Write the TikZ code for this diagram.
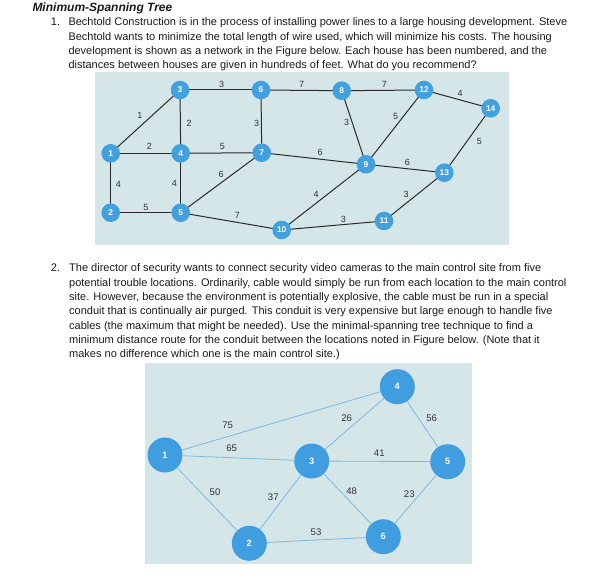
\documentclass[tikz,border=0pt]{standalone}
\usepackage{fontspec}
\setmainfont{Liberation Sans}
\usepackage{tikz}

\definecolor{panelbg}{HTML}{D4E6E8}
\definecolor{housefill}{HTML}{43A0DF}
\definecolor{camfill}{HTML}{409EE0}
\definecolor{conduit}{HTML}{7DB9E2}
\definecolor{wire}{HTML}{2A2A2A}
\definecolor{inktext}{HTML}{1A1A1A}

\begin{document}
\begin{tikzpicture}[
  x=1pt, y=-1pt,
  every node/.style={font=\fontsize{11}{14.3}\selectfont, text=inktext},
  para/.style={anchor=north west, inner sep=0pt, align=left},
  house/.style={circle, fill=housefill, minimum size=18.6pt, inner sep=0pt,
    font=\fontsize{8.4}{9}\selectfont\bfseries, text=white},
  camera/.style={circle, fill=camfill, minimum size=35pt, inner sep=0pt,
    font=\fontsize{9.2}{10}\selectfont\bfseries, text=white},
  wirelbl/.style={inner sep=0pt, font=\fontsize{9}{9}\selectfont, text=black!80},
  conduitlbl/.style={inner sep=0pt, font=\fontsize{9.6}{10}\selectfont, text=black!80}
]
\useasboundingbox (0,0) rectangle (604,585);

%% ── question text ────────────────────────────────────────────────────────────
\node[anchor=base west, inner sep=0pt, font=\fontsize{12}{13}\selectfont\bfseries\itshape]
  (title) at (32.3,11.6) {Minimum-Spanning Tree};

\node[anchor=base west, inner sep=0pt] (num1) at (50.7,25.6) {1.};
\node[para] (q1) at (68.3,17.7)
  {Bechtold Construction is in the process of installing power lines to a large housing development. Steve\\
   Bechtold wants to minimize the total length of wire used, which will minimize his costs. The housing\\
   development is shown as a network in the Figure below. Each house has been numbered, and the\\
   distances between houses are given in hundreds of feet. What do you recommend?};

\node[anchor=base west, inner sep=0pt] (num2) at (50.7,271.6) {2.};
\node[para] (q2) at (69,263.7)
  {The director of security wants to connect security video cameras to the main control site from five\\
   potential trouble locations. Ordinarily, cable would simply be run from each location to the main control\\
   site. However, because the environment is potentially explosive, the cable must be run in a special\\
   conduit that is continually air purged. This conduit is very expensive but large enough to handle five\\
   cables (the maximum that might be needed). Use the minimal-spanning tree technique to find a\\
   minimum distance route for the conduit between the locations noted in Figure below. (Note that it\\
   makes no difference which one is the main control site.)};

%% ── figure 1: housing development ────────────────────────────────────────────
\fill[panelbg] (95,72) rectangle (508.7,245);

\foreach \n/\px/\py in {1/110.7/153.3, 2/110.7/212.7, 3/180/90, 4/180.7/153.3,
    5/180.7/212.7, 6/261/90, 7/261.7/152.7, 8/341.7/90.7, 9/366/164.3,
    10/281.7/230, 11/384/221, 12/424/90, 13/444.3/172.7, 14/490.7/108.3}
  \coordinate (p\n) at (\px,\py);

\foreach \a/\b/\w/\lx/\ly in {1/3/1/140/115, 1/4/2/149.3/146.7, 1/2/4/118.3/184,
    3/4/2/189/123.3, 3/6/3/221.7/84.3, 4/7/5/222.3/146, 4/5/4/174.3/183.3,
    2/5/5/146/207.3, 5/7/6/221/174.3, 5/10/7/237.3/215.7, 6/7/3/256.7/123.3,
    6/8/7/301.7/84.3, 7/9/6/320/152.3, 8/9/3/346.7/122.7, 8/12/7/384.3/84.3,
    9/12/5/395.7/116.7, 12/14/4/460/93.3, 9/13/6/407.3/162.7, 9/10/4/316/194.3,
    10/11/3/343.3/219, 11/13/3/406/194.3, 13/14/5/479.3/141.7} {
  \draw[wire, line width=1pt] (p\a) -- (p\b);
  \node[wirelbl] (w\a-\b) at (\lx,\ly) {\w};
}

\foreach \n in {1,...,14}
  \node[house] (h\n) at (p\n) {\n};

%% ── figure 2: camera locations ───────────────────────────────────────────────
\fill[panelbg] (145,363) rectangle (471.7,564);

\node[camera] (c1) at (165,455) {1};
\node[camera] (c2) at (249.3,543.3) {2};
\node[camera] (c3) at (311.7,461) {3};
\node[camera] (c4) at (397.3,386.7) {4};
\node[camera] (c5) at (447.7,461.7) {5};
\node[camera] (c6) at (383.3,536.7) {6};

\foreach \a/\b/\w/\lx/\ly in {1/4/75/227.7/425, 1/3/65/231.7/448.3,
    1/2/50/215/491.7, 2/3/37/273.3/496.7, 2/6/53/316/531.7, 3/4/26/346.7/417.7,
    4/5/56/431.7/417.7, 3/5/41/379.3/452.7, 3/6/48/351.7/490.7, 5/6/23/409.3/494} {
  \draw[conduit, line width=0.8pt] (c\a) -- (c\b);
  \node[conduitlbl] (d\a-\b) at (\lx,\ly) {\w};
}

\end{tikzpicture}
\end{document}
